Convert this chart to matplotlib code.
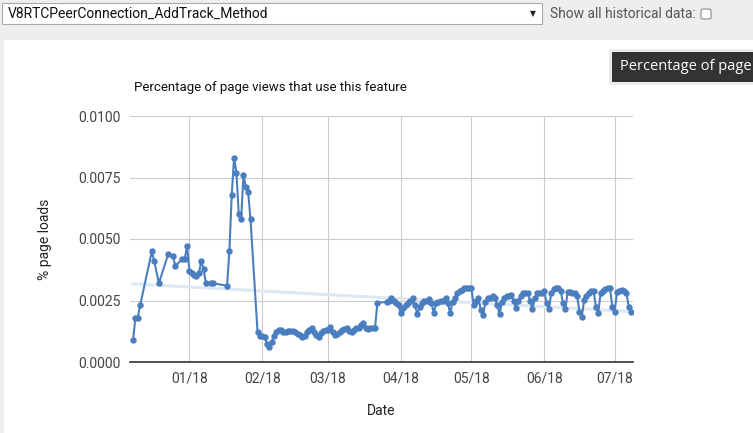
import matplotlib
matplotlib.use('Agg')
import matplotlib.pyplot as plt
import matplotlib.dates as mdates
from matplotlib.patches import Rectangle, FancyBboxPatch
import numpy as np
import pandas as pd

# sparse early records (Dec - Jan)
early_dates = ['2017-12-08', '2017-12-09', '2017-12-10', '2017-12-11', '2017-12-16',
               '2017-12-17', '2017-12-19', '2017-12-23', '2017-12-25', '2017-12-26',
               '2017-12-29', '2017-12-30', '2017-12-31', '2018-01-01', '2018-01-02',
               '2018-01-03', '2018-01-04', '2018-01-05', '2018-01-06', '2018-01-07',
               '2018-01-08', '2018-01-10', '2018-01-11', '2018-01-17', '2018-01-18',
               '2018-01-19', '2018-01-20', '2018-01-21', '2018-01-22', '2018-01-23',
               '2018-01-24', '2018-01-25', '2018-01-26', '2018-01-27']
early_vals = [0.00089, 0.0018, 0.0018, 0.0023, 0.0045,
              0.0041, 0.0032, 0.0044, 0.0043, 0.0039,
              0.0042, 0.0042, 0.0047, 0.0037, 0.0036,
              0.00355, 0.0035, 0.0036, 0.0041, 0.0038,
              0.0032, 0.0032, 0.0032, 0.0031, 0.0045,
              0.0068, 0.0083, 0.0077, 0.0060, 0.0058,
              0.0076, 0.0071, 0.0069, 0.0058]

# daily records 2018-01-30 .. 2018-03-22
winter_start = '2018-01-30'
winter_vals = [0.0012, 0.00105,
               0.00105, 0.00103, 0.00073, 0.0006, 0.00083, 0.00105, 0.0012,
               0.0013, 0.0013, 0.00123, 0.0012, 0.00125, 0.00127, 0.00127,
               0.0012, 0.00115, 0.0011, 0.00103, 0.00105, 0.0012, 0.0013,
               0.00137, 0.0012, 0.0011, 0.00103, 0.00117, 0.00125, 0.0013,
               0.0013, 0.00144, 0.0012, 0.0011, 0.00115, 0.0012, 0.0013,
               0.00135, 0.0014, 0.00125, 0.0012, 0.0013, 0.0014, 0.0014,
               0.0015, 0.0016, 0.0014, 0.00135, 0.0014, 0.0014, 0.0014, 0.0024]

# daily records 2018-03-26 .. 2018-07-08
spring_start = '2018-03-26'
spring_vals = [0.00245, 0.0025, 0.0026, 0.0025, 0.0024, 0.0023, 0.00198,
               0.00218, 0.0023, 0.0024, 0.0025, 0.00259, 0.0023, 0.00195,
               0.00225, 0.0024, 0.0025, 0.0025, 0.00256, 0.0024, 0.00198,
               0.0024, 0.00245, 0.0025, 0.0025, 0.0026, 0.0024, 0.00198,
               0.00245, 0.0026, 0.0028, 0.0029, 0.00293, 0.0030, 0.0030,
               0.0030, 0.0030, 0.0023, 0.0025, 0.0026, 0.0021, 0.0019,
               0.00245, 0.0026, 0.0026, 0.0027, 0.0026, 0.0023, 0.00195,
               0.00245, 0.0026, 0.0027, 0.0027, 0.00272, 0.0025, 0.00218,
               0.0025, 0.0027, 0.0028, 0.0028, 0.0028, 0.0025, 0.00216,
               0.0026, 0.0028, 0.0028, 0.0028, 0.0029, 0.0024, 0.00216,
               0.0028, 0.00295, 0.0030, 0.0030, 0.0029, 0.0024, 0.00214,
               0.00286, 0.00286, 0.0028, 0.0028, 0.0027, 0.00205, 0.00184,
               0.00252, 0.0027, 0.0028, 0.0029, 0.0029, 0.00225, 0.0020,
               0.00279, 0.0029, 0.00295, 0.0030, 0.0030, 0.00225, 0.00205,
               0.00286, 0.0029, 0.00293, 0.0029, 0.0028, 0.00225, 0.00205]

# linear trendline as shown (value at first and last date)
trend_vals = [0.00318, 0.00205]

feature_name = 'V8RTCPeerConnection_AddTrack_Method'
chart_title = 'Percentage of page views that use this feature'
y_ticks = [0.0, 0.0025, 0.005, 0.0075, 0.01]

dates = pd.to_datetime(early_dates +
                       list(pd.date_range(winter_start, periods=len(winter_vals)).strftime('%Y-%m-%d')) +
                       list(pd.date_range(spring_start, periods=len(spring_vals)).strftime('%Y-%m-%d')))
vals = np.array(early_vals + winter_vals + spring_vals)

W, H = 753, 433
plt.rcParams['font.family'] = ['Roboto', 'DejaVu Sans']

fig = plt.figure(figsize=(W / 100, H / 100), dpi=100)
fig.patch.set_facecolor('#eeeeee')


def fx(x):
    return x / W


def fy(y):
    return 1 - y / H


# white card
fig.add_artist(Rectangle((fx(4), 0), fx(W - 4), (H - 40) / H, transform=fig.transFigure,
                         facecolor='white', edgecolor='none', zorder=0))

# dropdown + checkbox
fig.add_artist(Rectangle((fx(2), fy(24)), fx(540), 21 / H, transform=fig.transFigure,
                         facecolor='white', edgecolor='#a9a9a9', lw=0.8))
fig.text(fx(8), fy(14), feature_name, fontsize=10, color='#111111', va='center')
fig.text(fx(533), fy(14), '▼', fontsize=5.5, color='#222222', va='center', ha='center',
         family='DejaVu Sans')
fig.text(fx(550), fy(14), 'Show all historical data:', fontsize=10, color='#555555', va='center')
fig.add_artist(FancyBboxPatch((fx(701), fy(19)), fx(10), 10 / H, transform=fig.transFigure,
                              boxstyle='round,pad=0,rounding_size=0.003',
                              facecolor='white', edgecolor='#888888', lw=0.8))

# chart
ax = fig.add_axes([fx(130), fy(362), fx(503), 246 / H])
ax.set_facecolor('none')

xn = mdates.date2num(dates)
ax.plot(dates[[0, -1]], trend_vals, color='#dce8f4', lw=2.2, zorder=2)
ax.plot(dates, vals, color='#4a7ebf', lw=1.5, marker='o', ms=3.6, zorder=3)

ax.set_ylim(0, 0.01)
ax.set_yticks(y_ticks)
ax.yaxis.set_major_formatter(matplotlib.ticker.FormatStrFormatter('%.4f'))
ax.set_xlim(xn[0] - 1.3, xn[-1] + 0.8)
ax.xaxis.set_major_locator(mdates.MonthLocator())
ax.xaxis.set_major_formatter(mdates.DateFormatter('%m/%y'))
ax.grid(True, color='#cccccc', lw=0.8)
ax.set_axisbelow(True)
for s in ['left', 'right', 'top']:
    ax.spines[s].set_visible(False)
ax.spines['bottom'].set_color('#333333')
ax.spines['bottom'].set_linewidth(1.2)
ax.tick_params(length=0, labelsize=10, labelcolor='#444444')
ax.tick_params(axis='y', pad=7)
ax.tick_params(axis='x', pad=7)
ax.set_xlabel('Date', fontsize=10, color='#222222', labelpad=13)
ax.set_ylabel('% page loads', fontsize=10, color='#222222', labelpad=19)

fig.text(fx(134), fy(88), chart_title, fontsize=9.5, color='#111111', va='center')

# tooltip
fig.add_artist(Rectangle((fx(609), fy(85)), fx(150), 36 / H, transform=fig.transFigure,
                         facecolor='#000000', alpha=0.08, edgecolor='none'))
fig.add_artist(Rectangle((fx(612), fy(82)), fx(145), 30 / H, transform=fig.transFigure,
                         facecolor='#333333', edgecolor='none'))
fig.text(fx(620), fy(67), 'Percentage of page', fontsize=10.5, color='white', va='center',
         family=['Open Sans', 'DejaVu Sans'])

fig.savefig('out.png', dpi=100)
